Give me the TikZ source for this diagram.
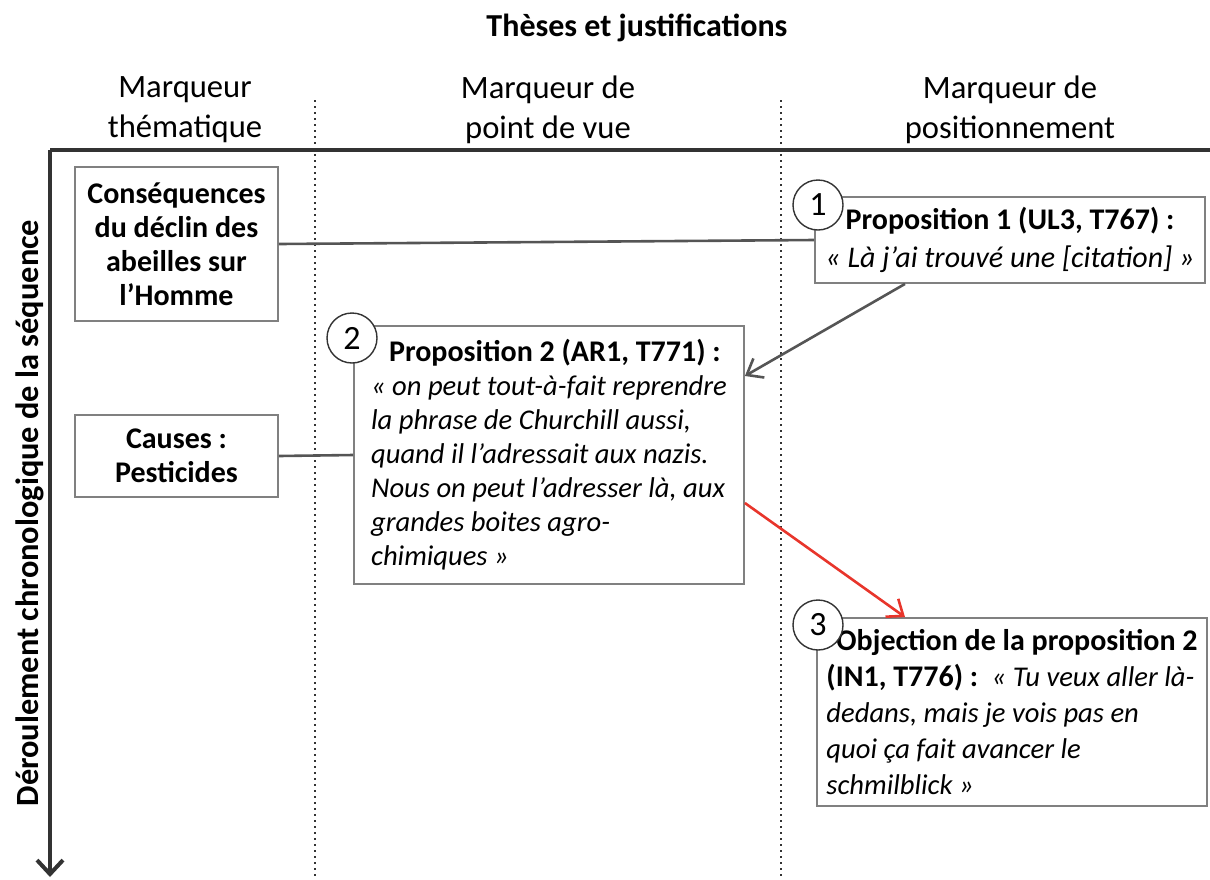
\documentclass[tikz,border=0pt]{standalone}
\usepackage{fontspec}
\setmainfont{Carlito}
\usetikzlibrary{arrows.meta,calc}

\definecolor{boxgray}{HTML}{808080}
\definecolor{linegray}{HTML}{555555}
\definecolor{axisgray}{HTML}{333333}
\definecolor{objred}{HTML}{E8352B}

\newcommand{\quoteit}[1]{{\fontsize{14.3}{17}\selectfont\itshape #1}}

\begin{document}
\begin{tikzpicture}[
        x                 = 0.5pt,
        y                 = 0.5pt,
        textbox/.style    = {draw=boxgray, line width=0.9pt, fill=white, inner xsep=4pt, inner ysep=4pt,
                             font=\fontsize{15}{17}\selectfont},
        themebox/.style   = {textbox, align=center, minimum width=101.5pt,
                             font=\fontsize{15}{17}\selectfont\bfseries},
        propbox/.style    = {textbox, align=left, minimum width=195pt},
        numcircle/.style  = {circle, draw=axisgray, line width=0.7pt, fill=white, minimum size=25pt, inner sep=0pt,
                             font=\fontsize{17}{18}\selectfont},
        header/.style     = {align=center, font=\fontsize{16.3}{20}\selectfont},
        link/.style       = {draw=linegray, line width=1.3pt},
        arrowlink/.style  = {link, -{Straight Barb[length=7pt, width=11pt]}},
        objection/.style  = {arrowlink, draw=objred},
        axis/.style       = {draw=axisgray, line width=2pt},
        separator/.style  = {draw=axisgray, line width=1pt, dotted},
      ]
        \useasboundingbox (0,0) rectangle (1210,-879);

        % titres
        \node[font=\fontsize{16}{19}\selectfont\bfseries] (title) at (637,-28) {Thèses et justifications};
        \node[header] (hthema) at (185,-110) {Marqueur\\thématique};
        \node[header] (hpoint) at (548,-110) {Marqueur de\\point de vue};
        \node[header] (hposit) at (1010,-110) {Marqueur de\\positionnement};

        % colonnes et axe du temps
        \draw[separator] (315,-100) -- (315,-879);
        \draw[separator] (781,-100) -- (781,-879);
        \coordinate (corner) at (50,-150);
        \coordinate (axisright) at (1210,-150);
        \coordinate (axisend) at (50,-877);
        \draw[axis] (axisright) -- (corner);
        \draw[axis, -{Straight Barb[length=7pt, width=13pt]}] (corner) -- (axisend);
        \node[rotate=90, font=\fontsize{16.2}{18}\selectfont\bfseries] (timeline) at (30,-513)
            {Déroulement chronologique de la séquence};

        % marqueurs
        \node[themebox, minimum height=77pt] (conseq) at (176.5,-244)
            {Conséquences\\du déclin des\\abeilles sur\\l’Homme};
        \node[themebox, minimum height=41pt] (causes) at (176.5,-456) {Causes :\\Pesticides};

        \node[textbox, align=center, minimum width=195pt, minimum height=43pt] (prop1) at (1010,-240)
            {\textbf{Proposition 1 (UL3, T767) :}\\[2pt]\textit{« Là j’ai trouvé une [citation] »}};
        \node[propbox, minimum height=129pt] (prop2) at (549,-455)
            {\hspace*{9pt}\textbf{Proposition 2 (AR1, T771) :}\\
             \quoteit{« on peut tout-à-fait reprendre}\\
             \quoteit{la phrase de Churchill aussi,}\\
             \quoteit{quand il l’adressait aux nazis.}\\
             \quoteit{Nous on peut l’adresser là, aux}\\
             \quoteit{grandes boites agro-}\\
             \quoteit{chimiques »}};
        \node[propbox, minimum height=94pt] (objec) at (1012,-712)
            {\hspace*{5pt}\textbf{Objection de la proposition 2}\\[1pt]
             \textbf{(IN1, T776) :}~~\quoteit{« Tu veux aller là-}\\[1pt]
             \quoteit{dedans, mais je vois pas en}\\[1pt]
             \quoteit{quoi ça fait avancer le}\\[1pt]
             \quoteit{schmilblick »}};

        % liens
        \draw[link] (conseq.east) -- (prop1.west);
        \draw[link] (causes.east) -- (prop2.west);
        \draw[arrowlink] ([xshift=-52.5pt]prop1.south) -- ([yshift=39.5pt]prop2.east);
        \draw[objection] ([yshift=-24pt]prop2.east) -- ([xshift=-53.5pt]objec.north);

        \node[numcircle] (n1) at (818,-205) {1};
        \node[numcircle] (n2) at (352,-338) {2};
        \node[numcircle] (n3) at (818,-625) {3};
    \end{tikzpicture}
\end{document}
